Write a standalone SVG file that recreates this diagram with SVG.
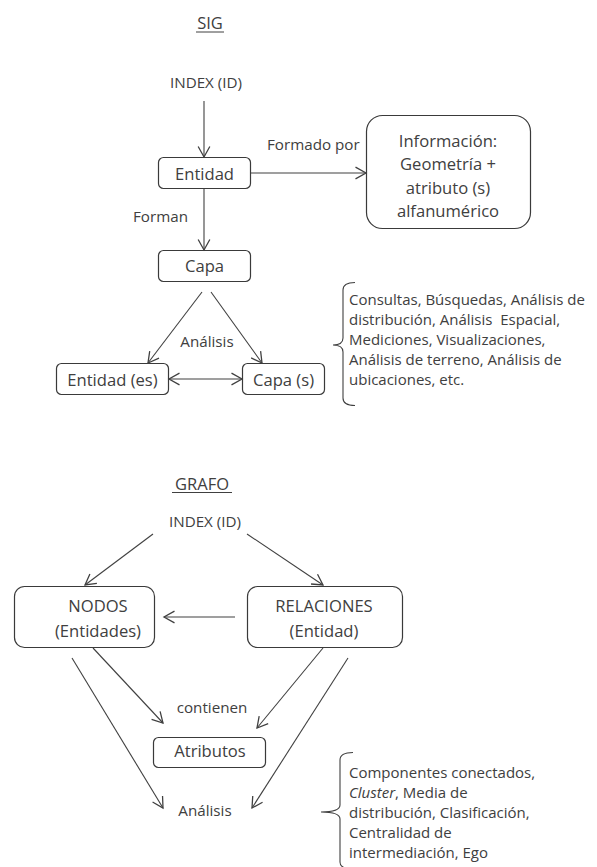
<svg xmlns="http://www.w3.org/2000/svg" width="597" height="867" viewBox="0 0 597 867">
  <style>
    text { font-family: "Open Sans", "Noto Sans", sans-serif; fill: #404040; font-size: 15.2px; }
    .c { text-anchor: middle; }
    .lbl { font-size: 16.6px; }
    .side { font-size: 15px; white-space: pre; }
    .title { font-size: 16.5px; }
    .box { fill: #ffffff; stroke: #3a3a3a; stroke-width: 1.2; }
    .ln { fill: none; stroke: #404040; stroke-width: 1.1; }
    .ul { stroke: #404040; stroke-width: 1; }
  </style>
  <defs>
    <marker id="arrow" markerUnits="userSpaceOnUse" markerWidth="14" markerHeight="14" refX="10" refY="6" orient="auto-start-reverse" viewBox="0 0 12 12">
      <path d="M1,1 L10,6 L1,11" fill="none" stroke="#404040" stroke-width="1.1"/>
    </marker>
  </defs>
  <rect width="597" height="867" fill="#ffffff"/>

  <!-- SIG section -->
  <g id="title-sig">
    <text class="c title" x="210" y="29">SIG</text>
    <line class="ul" x1="196" y1="32" x2="224" y2="32"/>
  </g>
  <g id="sig-index">
    <text class="c" x="206" y="88">INDEX (ID)</text>
  </g>
  <g id="sig-entidad">
    <rect class="box" x="158.5" y="157.5" width="92" height="31" rx="5"/>
    <text class="c lbl" x="204.5" y="180">Entidad</text>
  </g>
  <g id="sig-informacion">
    <rect class="box" x="366.5" y="115.5" width="164" height="113" rx="16"/>
    <text class="c lbl" x="448" y="147">Información:</text>
    <text class="c lbl" x="448" y="170">Geometría +</text>
    <text class="c lbl" x="448" y="194">atributo (s)</text>
    <text class="c lbl" x="448" y="217">alfanumérico</text>
  </g>
  <g id="sig-capa">
    <rect class="box" x="158.5" y="250.5" width="92" height="31" rx="5"/>
    <text class="c lbl" x="204.5" y="272">Capa</text>
  </g>
  <g id="sig-entidades">
    <rect class="box" x="56.5" y="363.5" width="112" height="31" rx="5"/>
    <text class="c lbl" x="112.5" y="386">Entidad (es)</text>
  </g>
  <g id="sig-capas">
    <rect class="box" x="242.5" y="363.5" width="82" height="31" rx="5"/>
    <text class="c lbl" x="283.5" y="386">Capa (s)</text>
  </g>
  <g id="sig-operaciones">
    <path class="ln" d="M355,282.5 Q343,282.5 343,290 L343,338 Q343,345 333,345 Q343,345 343,352 L343,398 Q343,405.5 355,405.5"/>
    <text class="side" x="349" y="305">Consultas, Búsquedas, Análisis de</text>
    <text class="side" x="349" y="325">distribución, Análisis  Espacial,</text>
    <text class="side" x="349" y="345">Mediciones, Visualizaciones,</text>
    <text class="side" x="349" y="365">Análisis de terreno, Análisis de</text>
    <text class="side" x="349" y="385">ubicaciones, etc.</text>
  </g>

  <!-- GRAFO section -->
  <g id="title-grafo">
    <text class="c title" x="202" y="490">GRAFO</text>
    <line class="ul" x1="172" y1="492.5" x2="232" y2="492.5"/>
  </g>
  <g id="grafo-index">
    <text class="c" x="205" y="527">INDEX (ID)</text>
  </g>
  <g id="grafo-nodos">
    <rect class="box" x="14.5" y="586.5" width="140" height="61" rx="10"/>
    <text class="c lbl" x="98" y="612">NODOS</text>
    <text class="c lbl" x="98" y="637">(Entidades)</text>
  </g>
  <g id="grafo-relaciones">
    <rect class="box" x="247.5" y="586.5" width="155" height="61" rx="10"/>
    <text class="c lbl" x="324" y="612">RELACIONES</text>
    <text class="c lbl" x="324" y="637">(Entidad)</text>
  </g>
  <g id="grafo-contienen">
    <text class="c" x="212" y="713">contienen</text>
  </g>
  <g id="grafo-atributos">
    <rect class="box" x="153.5" y="737.5" width="112" height="30" rx="5"/>
    <text class="c lbl" x="210" y="757">Atributos</text>
  </g>
  <g id="grafo-analisis">
    <text class="c" x="205" y="816">Análisis</text>
  </g>
  <g id="grafo-metricas">
    <path class="ln" d="M353,752.5 Q340,752.5 340,760 L340,805 Q340,812 321,812 Q340,812 340,819 L340,862 Q340,869 353,869"/>
    <text class="side" x="349" y="778">Componentes conectados,</text>
    <text class="side" x="349" y="798"><tspan font-style="italic">Cluster</tspan>, Media de</text>
    <text class="side" x="349" y="818">distribución, Clasificación,</text>
    <text class="side" x="349" y="838">Centralidad de</text>
    <text class="side" x="349" y="858">intermediación, Ego</text>
  </g>

  <g id="connectors">
    <!-- SIG -->
    <line class="ln" x1="204" y1="101" x2="204" y2="157" marker-end="url(#arrow)"/>
    <line class="ln" x1="251" y1="173" x2="366" y2="173" marker-end="url(#arrow)"/>
    <text x="267" y="150">Formado por</text>
    <line class="ln" x1="204" y1="189" x2="204" y2="250" marker-end="url(#arrow)"/>
    <text x="133" y="222">Forman</text>
    <line class="ln" x1="202" y1="292" x2="148" y2="363" marker-end="url(#arrow)"/>
    <line class="ln" x1="211" y1="292" x2="262" y2="363" marker-end="url(#arrow)"/>
    <text class="c" x="207" y="347">Análisis</text>
    <line class="ln" x1="169" y1="379" x2="242" y2="379" marker-start="url(#arrow)" marker-end="url(#arrow)"/>
    <!-- GRAFO -->
    <line class="ln" x1="153" y1="534" x2="85" y2="585" marker-end="url(#arrow)"/>
    <line class="ln" x1="247" y1="534" x2="323" y2="585" marker-end="url(#arrow)"/>
    <line class="ln" x1="235" y1="617" x2="164" y2="617" marker-end="url(#arrow)"/>
    <line class="ln" x1="93" y1="648" x2="163" y2="723" marker-end="url(#arrow)"/>
    <line class="ln" x1="72" y1="658" x2="163" y2="808" marker-end="url(#arrow)"/>
    <line class="ln" x1="323" y1="648" x2="257" y2="728" marker-end="url(#arrow)"/>
    <line class="ln" x1="348" y1="658" x2="252" y2="808" marker-end="url(#arrow)"/>
  </g>
</svg>
